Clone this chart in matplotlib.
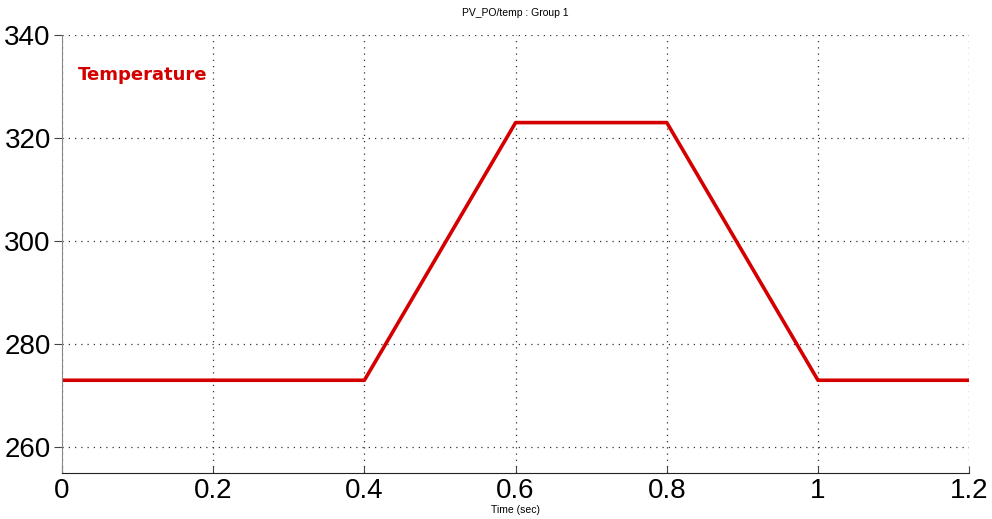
import matplotlib
matplotlib.use("Agg")
import matplotlib.pyplot as plt

plt.rcParams["font.family"] = ["Liberation Sans", "DejaVu Sans"]

# temperature profile (K) vs time (s)
time = [0.0, 0.4, 0.6, 0.8, 1.0, 1.2]
temp = [273, 273, 323, 323, 273, 273]

xticks = [0, 0.2, 0.4, 0.6, 0.8, 1, 1.2]
xlabels = ["0", "0.2", "0.4", "0.6", "0.8", "1", "1.2"]
yticks = [260, 280, 300, 320, 340]

fig = plt.figure(figsize=(9.92, 5.19), dpi=100)
ax = fig.add_axes([0.0625, 0.0886, 0.9145, 0.844])

ax.plot(time, temp, color="#d40000", linewidth=2.6)

ax.set_xlim(0, 1.2)
ax.set_ylim(255, 340)
ax.set_xticks(xticks)
ax.set_xticklabels(xlabels)
ax.set_yticks(yticks)
ax.tick_params(labelsize=20, length=5, direction="in", colors="#444444", labelcolor="black")
ax.tick_params(axis="y", direction="out", length=6, pad=2)
ax.grid(True, linestyle=(0, (1, 4)), color="#333333", linewidth=0.9)

for s in ["top", "right"]:
    ax.spines[s].set_visible(False)
ax.spines["left"].set_color("#888888")
ax.spines["bottom"].set_color("#222222")

ax.set_title("PV_PO/temp : Group 1", fontsize=7.5, pad=14)
ax.set_xlabel("Time (sec)", fontsize=7.5, labelpad=1)
ax.text(0.017, 0.908, "Temperature", transform=ax.transAxes, color="#d40000",
        fontsize=13, fontweight="bold", va="center", family=["DejaVu Sans"])

fig.savefig("out.png", dpi=100)
